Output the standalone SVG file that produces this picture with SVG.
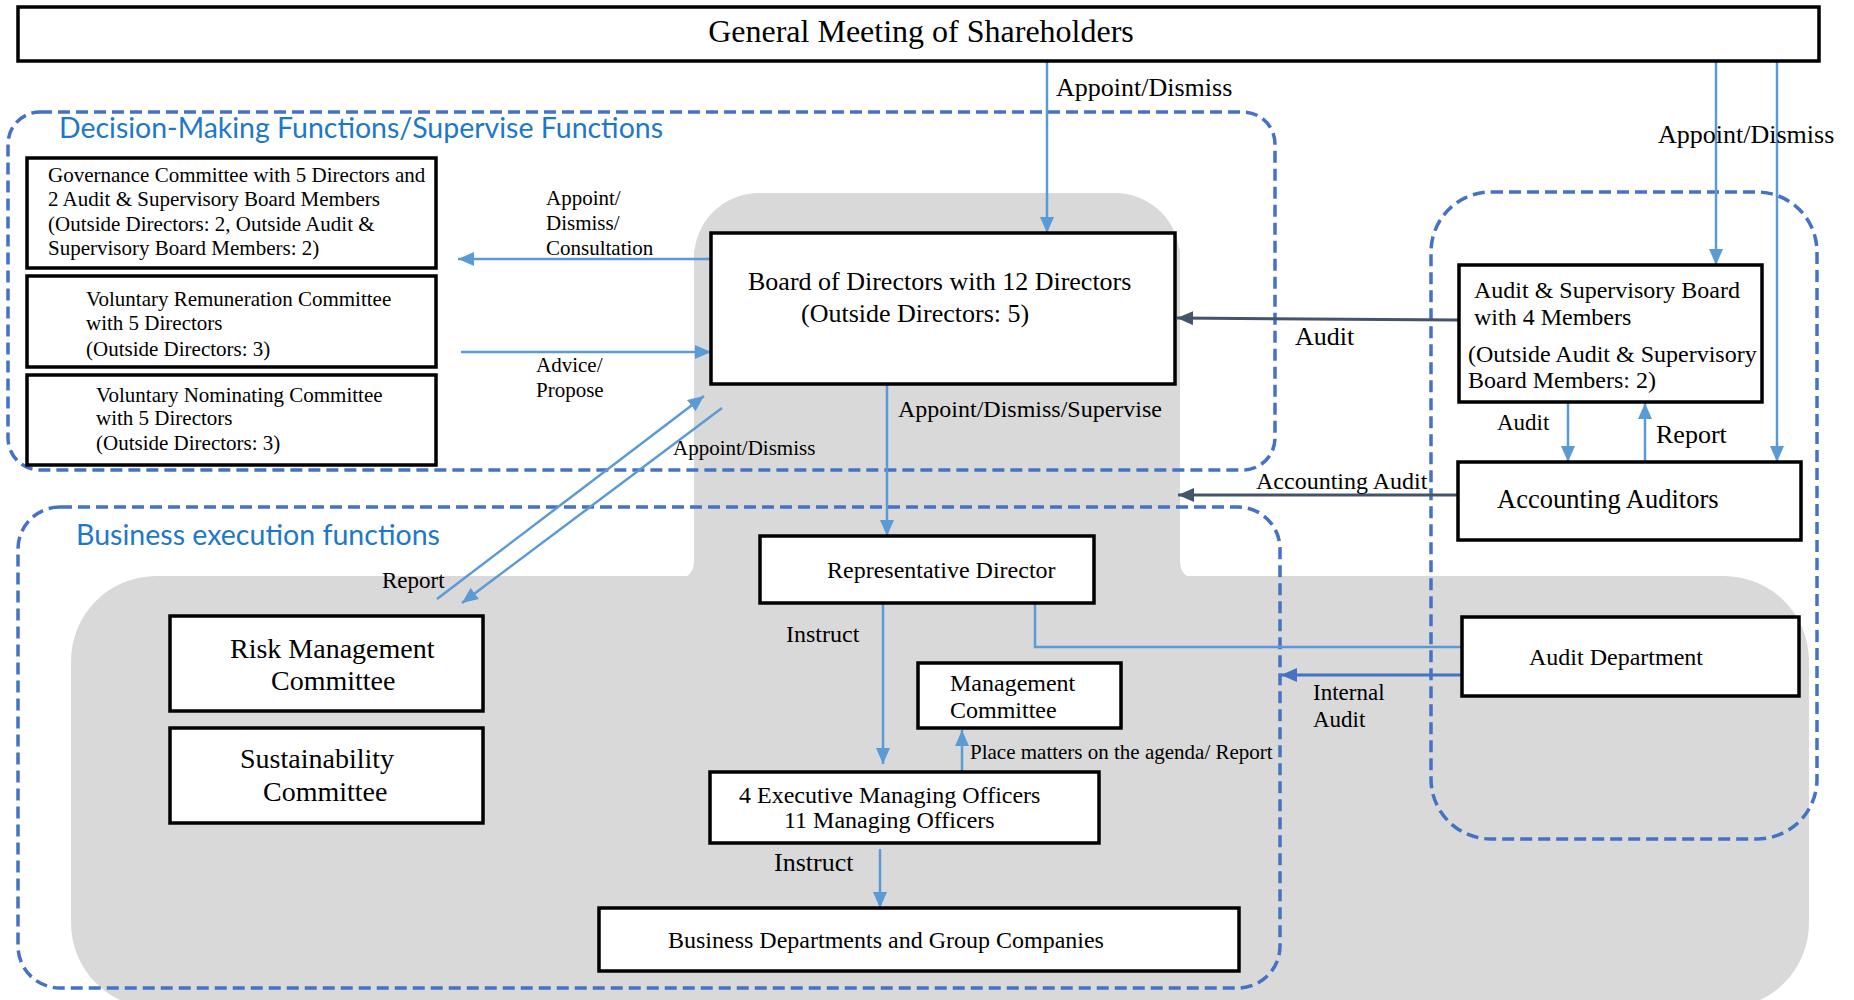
<svg xmlns="http://www.w3.org/2000/svg" width="1854" height="1000" viewBox="0 0 1854 1000">
<defs>
<style>
.box{fill:#fff;stroke:#000;stroke-width:3.5}
.t{font-family:"Liberation Serif","Times New Roman",serif;fill:#000}
.dash{fill:none;stroke:#4472C4;stroke-width:3.5;stroke-dasharray:12 6}
.title{font-family:Lato,"Open Sans",sans-serif;fill:#1E78C8;font-size:28px}
.lb{fill:none;stroke:#5B9BD5;stroke-width:2.5}
.dk{fill:none;stroke:#44546A;stroke-width:3}
.mb{fill:none;stroke:#4472C4;stroke-width:3}
</style>
<marker id="aL" viewBox="0 0 16 14" refX="16" refY="7" markerWidth="16" markerHeight="14" markerUnits="userSpaceOnUse" orient="auto"><path d="M0 0L16 7L0 14z" fill="#5B9BD5"/></marker>
<marker id="aD" viewBox="0 0 16 14" refX="16" refY="7" markerWidth="16" markerHeight="14" markerUnits="userSpaceOnUse" orient="auto"><path d="M0 0L16 7L0 14z" fill="#44546A"/></marker>
<marker id="aM" viewBox="0 0 16 14" refX="16" refY="7" markerWidth="16" markerHeight="14" markerUnits="userSpaceOnUse" orient="auto"><path d="M0 0L16 7L0 14z" fill="#4472C4"/></marker>
</defs>
<rect width="1854" height="1000" fill="#fff"/>
<g id="background">
<path d="M694 258A65 65 0 0 1 759 193L1115 193A65 65 0 0 1 1180 258L1180 560Q1180 578 1196 578L678 578Q694 578 694 560Z" fill="#D9D9D9"/>
<rect x="71" y="576" width="1738" height="432" rx="85" ry="85" fill="#D9D9D9"/>
<rect x="694" y="250" width="486" height="328" fill="#D9D9D9"/>
</g>
<g id="regions">
<rect class="dash" x="8" y="112" width="1267" height="358" rx="32"/>
<rect class="dash" x="18" y="507" width="1262" height="481" rx="42"/>
<rect class="dash" x="1431" y="192" width="386" height="647" rx="60"/>
<text class="title" x="59" y="138" textLength="604" lengthAdjust="spacingAndGlyphs">Decision-Making Functions/Supervise Functions</text>
<text class="title" x="76" y="545" textLength="364" lengthAdjust="spacingAndGlyphs">Business execution functions</text>
</g>
<g id="connectors">
<path class="lb" d="M1047 61V233" marker-end="url(#aL)"/>
<path class="lb" d="M1716 61V265" marker-end="url(#aL)"/>
<path class="lb" d="M1777 61V462" marker-end="url(#aL)"/>
<path class="lb" d="M711 259H458" marker-end="url(#aL)"/>
<path class="lb" d="M461 352H711" marker-end="url(#aL)"/>
<path class="lb" d="M437 599L704 396" marker-end="url(#aL)"/>
<path class="lb" d="M722 408L462 603" marker-end="url(#aL)"/>
<path class="lb" d="M887 384V536" marker-end="url(#aL)"/>
<path class="dk" d="M1458 320L1177 318" marker-end="url(#aD)"/>
<path class="dk" d="M1458 495L1178 495" marker-end="url(#aD)"/>
<path class="lb" d="M1568 402V462" marker-end="url(#aL)"/>
<path class="lb" d="M1645 462V403" marker-end="url(#aL)"/>
<path class="lb" d="M1035 603V647H1462"/>
<path class="mb" d="M1462 675H1281" marker-end="url(#aM)"/>
<path class="lb" d="M883 603V764" marker-end="url(#aL)"/>
<path class="lb" d="M962 772V730" marker-end="url(#aL)"/>
<path class="lb" d="M880 849V908" marker-end="url(#aL)"/>
<text class="t" font-size="26" x="1056" y="96">Appoint/Dismiss</text>
<text class="t" font-size="26" x="1658" y="143">Appoint/Dismiss</text>
<text class="t" font-size="21" x="546" y="205">Appoint/</text>
<text class="t" font-size="21" x="546" y="230">Dismiss/</text>
<text class="t" font-size="21" x="546" y="255">Consultation</text>
<text class="t" font-size="21" x="536" y="372">Advice/</text>
<text class="t" font-size="21" x="536" y="397">Propose</text>
<text class="t" font-size="21" x="673" y="455">Appoint/Dismiss</text>
<text class="t" font-size="23" x="382" y="588">Report</text>
<text class="t" font-size="24" x="898" y="417">Appoint/Dismiss/Supervise</text>
<text class="t" font-size="26" x="1295" y="345">Audit</text>
<text class="t" font-size="24" x="1256" y="489">Accounting Audit</text>
<text class="t" font-size="23" x="1497" y="430">Audit</text>
<text class="t" font-size="26" x="1656" y="443">Report</text>
<text class="t" font-size="24" x="786" y="642">Instruct</text>
<text class="t" font-size="26" x="774" y="871">Instruct</text>
<text class="t" font-size="21" x="970" y="759">Place matters on the agenda/ Report</text>
<text class="t" font-size="23" x="1313" y="700">Internal</text>
<text class="t" font-size="23" x="1313" y="727">Audit</text>
</g>
<g id="general-meeting">
<rect class="box" x="18" y="7" width="1801" height="54"/>
<text class="t" font-size="32" x="921" y="42" text-anchor="middle">General Meeting of Shareholders</text>
</g>
<g id="governance-committee">
<rect class="box" x="27" y="158" width="409" height="110"/>
<text class="t" font-size="21" x="48" y="182">Governance Committee with 5 Directors and</text>
<text class="t" font-size="21" x="48" y="206">2 Audit &amp; Supervisory Board Members</text>
<text class="t" font-size="21" x="48" y="231">(Outside Directors: 2, Outside Audit &amp;</text>
<text class="t" font-size="21" x="48" y="255">Supervisory Board Members: 2)</text>
</g>
<g id="remuneration-committee">
<rect class="box" x="27" y="276" width="409" height="91"/>
<text class="t" font-size="21" x="86" y="306">Voluntary Remuneration Committee</text>
<text class="t" font-size="21" x="86" y="330">with 5 Directors</text>
<text class="t" font-size="21" x="86" y="356">(Outside Directors: 3)</text>
</g>
<g id="nominating-committee">
<rect class="box" x="27" y="375" width="409" height="90"/>
<text class="t" font-size="21" x="96" y="402">Voluntary Nominating Committee</text>
<text class="t" font-size="21" x="96" y="425">with 5 Directors</text>
<text class="t" font-size="21" x="96" y="450">(Outside Directors: 3)</text>
</g>
<g id="board-of-directors">
<rect class="box" x="711" y="233" width="464" height="151"/>
<text class="t" font-size="26" x="748" y="290">Board of Directors with 12 Directors</text>
<text class="t" font-size="26" x="801" y="322">(Outside Directors: 5)</text>
</g>
<g id="audit-supervisory-board">
<rect class="box" x="1459" y="265" width="303" height="137"/>
<text class="t" font-size="24" x="1474" y="298">Audit &amp; Supervisory Board</text>
<text class="t" font-size="24" x="1474" y="325">with 4 Members</text>
<text class="t" font-size="24" x="1468" y="362">(Outside Audit &amp; Supervisory</text>
<text class="t" font-size="24" x="1468" y="388">Board Members: 2)</text>
</g>
<g id="accounting-auditors">
<rect class="box" x="1458" y="462" width="343" height="78"/>
<text class="t" font-size="26.5" x="1497" y="508">Accounting Auditors</text>
</g>
<g id="representative-director">
<rect class="box" x="760" y="536" width="334" height="67"/>
<text class="t" font-size="24" x="827" y="578">Representative Director</text>
</g>
<g id="audit-department">
<rect class="box" x="1462" y="617" width="337" height="79"/>
<text class="t" font-size="24" x="1529" y="665">Audit Department</text>
</g>
<g id="risk-management-committee">
<rect class="box" x="170" y="616" width="313" height="95"/>
<text class="t" font-size="28" x="230" y="658">Risk Management</text>
<text class="t" font-size="28" x="271" y="690">Committee</text>
</g>
<g id="sustainability-committee">
<rect class="box" x="170" y="728" width="313" height="95"/>
<text class="t" font-size="28" x="240" y="768">Sustainability</text>
<text class="t" font-size="28" x="263" y="801">Committee</text>
</g>
<g id="management-committee">
<rect class="box" x="918" y="663" width="203" height="65"/>
<text class="t" font-size="24" x="950" y="691">Management</text>
<text class="t" font-size="24" x="950" y="718">Committee</text>
</g>
<g id="executive-officers">
<rect class="box" x="710" y="772" width="389" height="71"/>
<text class="t" font-size="24" x="739" y="803">4 Executive Managing Officers</text>
<text class="t" font-size="24" x="784" y="828">11 Managing Officers</text>
</g>
<g id="business-departments">
<rect class="box" x="599" y="908" width="640" height="63"/>
<text class="t" font-size="24" x="668" y="948">Business Departments and Group Companies</text>
</g>
</svg>
